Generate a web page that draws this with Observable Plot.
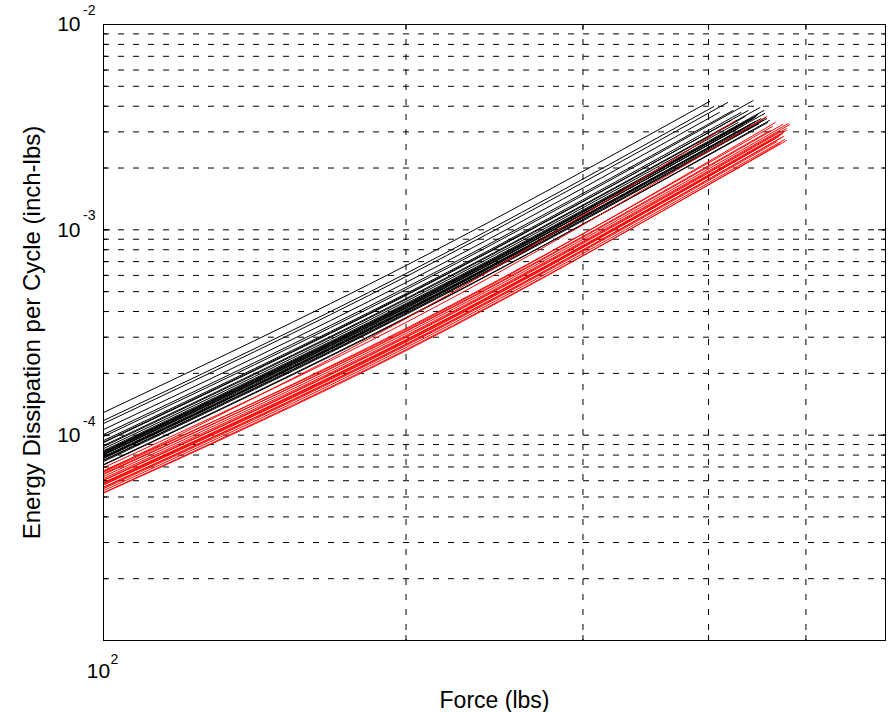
<!DOCTYPE html>
<html><head><meta charset="utf-8">
<script src="https://cdn.jsdelivr.net/npm/d3@7"></script>
<script src="https://cdn.jsdelivr.net/npm/@observablehq/plot@0.6"></script>
<style>html,body{margin:0;padding:0;background:#fff;} svg{display:block;}</style>
</head><body><div id="chart"></div>
<script>
// Black curves: energy at 100 lbs, energy at 200 lbs, last force, last energy
const blackE100 = [1.289e-4, 1.178e-4, 1.139e-4, 1.065e-4, 1.007e-4, 9.84e-5, 9.41e-5, 9.20e-5, 8.90e-5, 8.80e-5, 8.32e-5, 8.41e-5, 8.60e-5, 8.23e-5, 8.04e-5, 8.18e-5, 7.69e-5, 7.78e-5, 8.00e-5, 7.87e-5, 7.19e-5, 7.74e-5, 7.52e-5, 7.15e-5, 8.10e-5, 7.44e-5, 7.82e-5, 9.25e-5, 8.27e-5, 7.56e-5];
const blackE200 = [6.70e-4, 6.13e-4, 5.92e-4, 5.54e-4, 5.24e-4, 5.12e-4, 4.89e-4, 4.79e-4, 4.63e-4, 4.58e-4, 4.33e-4, 4.38e-4, 4.48e-4, 4.28e-4, 4.18e-4, 4.25e-4, 4.00e-4, 4.04e-4, 4.15e-4, 4.09e-4, 3.74e-4, 4.06e-4, 3.91e-4, 3.71e-4, 4.21e-4, 3.87e-4, 4.01e-4, 4.83e-4, 4.31e-4, 3.94e-4];
const blackFEnd = [401, 405, 418, 410, 423, 443, 431, 438, 450, 435, 448, 454, 428, 443, 455, 438, 456, 451, 433, 445, 458, 441, 453, 460, 428, 449, 437, 421, 446, 457];
const blackEEnd = [4.22e-3, 3.99e-3, 4.17e-3, 3.73e-3, 3.81e-3, 4.26e-3, 3.73e-3, 3.81e-3, 3.94e-3, 3.56e-3, 3.64e-3, 3.81e-3, 3.33e-3, 3.48e-3, 3.69e-3, 3.41e-3, 3.52e-3, 3.48e-3, 3.22e-3, 3.37e-3, 3.33e-3, 3.26e-3, 3.41e-3, 3.41e-3, 3.11e-3, 3.29e-3, 3.19e-3, 3.41e-3, 3.56e-3, 3.48e-3];

// Red curves
const redE100 = [6.65e-5, 6.95e-5, 6.72e-5, 6.50e-5, 6.29e-5, 6.15e-5, 6.01e-5, 5.88e-5, 5.37e-5, 5.25e-5, 6.60e-5, 6.05e-5, 5.81e-5, 5.75e-5, 5.84e-5, 5.72e-5, 5.56e-5, 5.49e-5, 5.59e-5, 5.22e-5, 6.43e-5];
const redE200 = [3.70e-4, 3.54e-4, 3.27e-4, 3.20e-4, 3.13e-4, 3.06e-4, 2.99e-4, 2.92e-4, 2.67e-4, 2.61e-4, 3.31e-4, 3.02e-4, 2.89e-4, 2.86e-4, 2.91e-4, 2.84e-4, 2.76e-4, 2.73e-4, 2.78e-4, 2.58e-4, 3.22e-4];
const redFEnd = [426, 457, 466, 474, 480, 482, 478, 478, 476, 478, 463, 469, 472, 470, 474, 466, 473, 468, 475, 471, 461];
const redEEnd = [3.41e-3, 3.56e-3, 3.33e-3, 3.26e-3, 3.29e-3, 3.26e-3, 3.11e-3, 3.05e-3, 2.75e-3, 2.72e-3, 3.19e-3, 2.98e-3, 2.91e-3, 2.85e-3, 2.94e-3, 2.78e-3, 2.82e-3, 2.69e-3, 2.85e-3, 2.63e-3, 3.05e-3];

// Axes / grid values
const xGrid = [200, 300, 400, 500];
const yGrid = [2e-5, 3e-5, 4e-5, 5e-5, 6e-5, 7e-5, 8e-5, 9e-5, 1e-4, 2e-4, 3e-4, 4e-4, 5e-4, 6e-4, 7e-4, 8e-4, 9e-4, 1e-3, 2e-3, 3e-3, 4e-3, 5e-3, 6e-3, 7e-3, 8e-3, 9e-3];
const yMajor = [1e-4, 1e-3];
const yLabelTicks = [1e-2, 1e-3, 1e-4];
const yLabelExp = ["-2", "-3", "-4"];
const xLabelTicks = [100];
const xLabelExp = ["2"];
const xTitle = "Force (lbs)";
const yTitle = "Energy Dissipation per Cycle (inch-lbs)";

function buildRows(e100, e200, fEnd, eEnd, prefix) {
  const rows = [];
  e100.forEach((e, i) => {
    rows.push({id: prefix + i, F: 100, E: e});
    rows.push({id: prefix + i, F: 200, E: e200[i]});
    rows.push({id: prefix + i, F: fEnd[i], E: eEnd[i]});
  });
  return rows;
}
const blackRows = buildRows(blackE100, blackE200, blackFEnd, blackEEnd, "b");
const redRows = buildRows(redE100, redE200, redFEnd, redEEnd, "r");

const W = 888, H = 712, ML = 103, MR = 3, MT = 24, MB = 72;
const FW = W - ML - MR, FH = H - MT - MB;
const font = "'Liberation Sans', Arial, Helvetica, sans-serif";

const chart = Plot.plot({
  width: W, height: H,
  marginLeft: ML, marginRight: MR, marginTop: MT, marginBottom: MB,
  style: {fontFamily: font, background: "#fff", color: "#000", overflow: "visible"},
  x: {type: "log", domain: [100, 600], axis: null},
  y: {type: "log", domain: [1e-5, 1e-2], axis: null},
  marks: [
    Plot.ruleY(yGrid, {stroke: "#000", strokeWidth: 1, strokeDasharray: "6,9"}),
    Plot.ruleX(xGrid, {stroke: "#000", strokeWidth: 1, strokeDasharray: "6,9"}),
    Plot.line(blackRows, {x: "F", y: "E", z: "id", stroke: "#000", strokeWidth: 1, curve: "monotone-x"}),
    Plot.line(redRows, {x: "F", y: "E", z: "id", stroke: "#ff0000", strokeWidth: 1, curve: "monotone-x"}),
    // inward ticks
    Plot.tickY(yGrid, {y: d => d, stroke: "#000", insetRight: FW - 4}),
    Plot.tickY(yGrid, {y: d => d, stroke: "#000", insetLeft: FW - 4}),
    Plot.tickY(yMajor, {y: d => d, stroke: "#000", insetRight: FW - 7}),
    Plot.tickY(yMajor, {y: d => d, stroke: "#000", insetLeft: FW - 7}),
    Plot.tickX(xGrid, {x: d => d, stroke: "#000", insetTop: FH - 5}),
    Plot.tickX(xGrid, {x: d => d, stroke: "#000", insetBottom: FH - 5}),
    Plot.frame({stroke: "#000", strokeWidth: 1}),
    // y tick labels 10^k
    Plot.text(yLabelTicks, {x: () => 100, y: d => d, text: () => "10", textAnchor: "end", lineAnchor: "middle", dx: -23, dy: 0, fontSize: 21}),
    Plot.text(yLabelTicks, {x: () => 100, y: d => d, text: (d, i) => yLabelExp[i], textAnchor: "end", lineAnchor: "middle", dx: -8, dy: -14, fontSize: 14}),
    // x tick labels
    Plot.text(xLabelTicks, {x: d => d, y: () => 1e-5, text: () => "10", textAnchor: "middle", lineAnchor: "middle", dx: -5, dy: 31, fontSize: 21}),
    Plot.text(xLabelTicks, {x: d => d, y: () => 1e-5, text: (d, i) => xLabelExp[i], textAnchor: "start", lineAnchor: "middle", dx: 7, dy: 19, fontSize: 14}),
    // axis titles
    Plot.text([xTitle], {frameAnchor: "bottom", text: d => d, lineAnchor: "middle", dy: 60, fontSize: 23}),
    Plot.text([yTitle], {frameAnchor: "left", text: d => d, rotate: -90, lineAnchor: "middle", textAnchor: "middle", dx: -71, fontSize: 24})
  ]
});
document.getElementById("chart").appendChild(chart);
</script>
</body></html>
